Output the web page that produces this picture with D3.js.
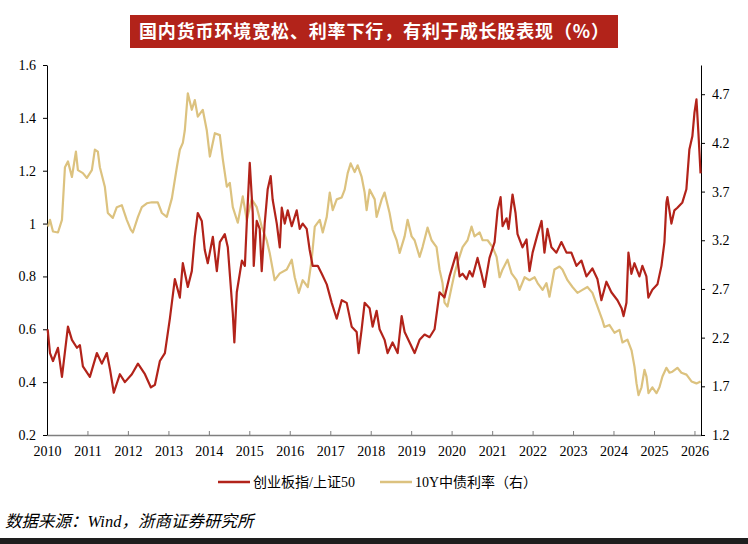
<!DOCTYPE html>
<html>
<head>
<meta charset="utf-8">
<script src="https://cdn.jsdelivr.net/npm/d3@7"></script>
<style>
  body { margin: 0; background: #fff; }
  svg { display: block; }
</style>
</head>
<body>
<svg id="chart" width="748" height="544"></svg>
<script>
// 创业板指/上证50 (left axis)
var ratioSeries = [
  ["2010-01-07",0.60],["2010-01-28",0.51],["2010-02-24",0.48],["2010-04-10",0.53],["2010-05-16",0.42],
  ["2010-07-09",0.61],["2010-08-14",0.56],["2010-09-28",0.53],["2010-10-25",0.54],["2010-11-21",0.46],
  ["2011-01-23",0.42],["2011-03-27",0.51],["2011-05-11",0.47],["2011-06-25",0.51],["2011-07-23",0.45],
  ["2011-08-27",0.36],["2011-10-21",0.43],["2011-12-05",0.40],["2012-02-06",0.43],["2012-04-01",0.47],
  ["2012-06-03",0.43],["2012-07-27",0.38],["2012-09-01",0.39],["2012-10-16",0.48],["2012-11-30",0.51],
  ["2013-01-14",0.64],["2013-02-28",0.79],["2013-04-14",0.72],["2013-05-11",0.85],["2013-06-25",0.76],
  ["2013-07-31",0.82],["2013-08-27",0.95],["2013-09-23",1.04],["2013-10-29",1.01],["2013-11-25",0.90],
  ["2013-12-22",0.85],["2014-02-06",0.95],["2014-03-14",0.82],["2014-04-10",0.93],["2014-05-25",0.96],
  ["2014-06-21",0.91],["2014-08-05",0.66],["2014-08-19",0.55],["2014-09-10",0.74],["2014-10-26",0.86],
  ["2014-11-22",0.84],["2014-12-09",1.00],["2015-01-05",1.23],["2015-02-01",1.04],["2015-02-10",0.84],
  ["2015-03-09",1.01],["2015-04-05",0.98],["2015-04-23",0.82],["2015-05-20",1.00],["2015-06-16",1.13],
  ["2015-07-13",1.18],["2015-07-31",1.09],["2015-09-06",1.00],["2015-10-03",0.91],["2015-10-21",1.06],
  ["2015-11-17",1.00],["2015-12-14",1.05],["2016-01-19",0.99],["2016-03-04",1.05],["2016-03-31",0.98],
  ["2016-04-27",1.00],["2016-06-02",0.98],["2016-06-29",0.90],["2016-07-26",0.84],["2016-09-10",0.84],
  ["2016-10-16",0.81],["2016-11-30",0.77],["2017-01-14",0.70],["2017-02-28",0.64],["2017-04-14",0.71],
  ["2017-05-29",0.70],["2017-07-13",0.61],["2017-08-27",0.59],["2017-09-14",0.51],["2017-10-11",0.60],
  ["2017-11-07",0.70],["2017-12-22",0.68],["2018-01-18",0.61],["2018-02-23",0.67],["2018-03-22",0.60],
  ["2018-05-06",0.56],["2018-06-02",0.51],["2018-07-17",0.55],["2018-09-01",0.51],["2018-10-07",0.65],
  ["2018-11-03",0.59],["2018-12-18",0.55],["2019-02-01",0.51],["2019-03-18",0.56],["2019-05-02",0.58],
  ["2019-06-16",0.57],["2019-07-31",0.60],["2019-09-14",0.74],["2019-10-29",0.72],["2019-12-13",0.80],
  ["2020-02-15",0.89],["2020-03-13",0.80],["2020-04-09",0.81],["2020-05-15",0.79],["2020-06-11",0.82],
  ["2020-07-08",0.80],["2020-08-22",0.87],["2020-09-27",0.81],["2020-10-24",0.76],["2020-12-08",0.87],
  ["2021-01-23",0.93],["2021-02-19",1.05],["2021-03-18",1.10],["2021-04-05",0.99],["2021-05-11",1.02],
  ["2021-05-29",0.98],["2021-07-04",1.11],["2021-07-31",1.04],["2021-08-18",0.96],["2021-10-02",0.91],
  ["2021-11-07",0.94],["2021-12-04",0.82],["2022-01-01",0.89],["2022-02-15",0.96],["2022-03-23",1.01],
  ["2022-04-18",0.89],["2022-05-15",0.98],["2022-06-20",0.91],["2022-08-04",0.89],["2022-09-18",0.93],
  ["2022-11-03",0.89],["2022-12-17",0.89],["2023-02-01",0.84],["2023-03-18",0.86],["2023-05-02",0.80],
  ["2023-06-25",0.83],["2023-08-09",0.79],["2023-09-14",0.71],["2023-10-29",0.78],["2023-12-13",0.74],
  ["2024-02-06",0.71],["2024-03-14",0.68],["2024-04-01",0.65],["2024-04-27",0.70],["2024-05-15",0.89],
  ["2024-06-11",0.81],["2024-07-08",0.85],["2024-08-22",0.80],["2024-09-18",0.84],["2024-10-24",0.80],
  ["2024-11-11",0.72],["2024-12-17",0.75],["2025-02-01",0.77],["2025-03-09",0.84],["2025-04-05",0.93],
  ["2025-04-23",1.08],["2025-05-02",1.10],["2025-06-07",1.00],["2025-07-04",1.05],["2025-07-31",1.06],
  ["2025-09-14",1.08],["2025-10-20",1.13],["2025-11-16",1.28],["2025-12-13",1.33],["2026-01-01",1.42],
  ["2026-01-19",1.47],["2026-02-06",1.34],["2026-02-25",1.19]
];

// 10Y中债利率 (right axis, %)
var yieldSeries = [
  ["2010-01-10",3.34],["2010-01-28",3.41],["2010-02-24",3.29],["2010-04-10",3.28],["2010-05-16",3.41],
  ["2010-06-12",3.95],["2010-07-09",4.01],["2010-08-14",3.85],["2010-09-19",4.11],["2010-10-07",3.92],
  ["2010-11-21",3.89],["2010-12-27",3.84],["2011-02-10",3.92],["2011-03-09",4.13],["2011-04-05",4.11],
  ["2011-04-23",3.95],["2011-06-07",3.75],["2011-07-04",3.48],["2011-08-18",3.43],["2011-09-23",3.54],
  ["2011-11-07",3.56],["2011-12-22",3.41],["2012-01-27",3.31],["2012-02-15",3.28],["2012-04-01",3.44],
  ["2012-05-06",3.54],["2012-06-20",3.58],["2012-08-04",3.59],["2012-09-27",3.59],["2012-11-03",3.48],
  ["2012-12-17",3.44],["2013-02-01",3.63],["2013-03-18",3.95],["2013-04-14",4.13],["2013-05-11",4.20],
  ["2013-05-29",4.33],["2013-06-25",4.71],["2013-07-31",4.54],["2013-08-27",4.64],["2013-09-23",4.47],
  ["2013-11-07",4.54],["2013-12-13",4.33],["2014-01-10",4.06],["2014-02-24",4.30],["2014-04-10",4.28],
  ["2014-05-07",4.03],["2014-06-12",3.75],["2014-07-09",3.79],["2014-08-05",3.54],["2014-09-19",3.38],
  ["2014-11-03",3.65],["2014-12-09",3.41],["2015-01-23",3.62],["2015-03-09",3.54],["2015-04-23",3.34],
  ["2015-06-07",3.20],["2015-07-04",3.07],["2015-08-18",2.79],["2015-10-03",2.86],["2015-12-05",2.90],
  ["2016-01-19",3.00],["2016-02-15",2.82],["2016-03-22",2.66],["2016-04-27",2.79],["2016-06-12",2.72],
  ["2016-07-17",3.00],["2016-08-14",3.34],["2016-09-28",3.41],["2016-10-25",3.28],["2016-11-30",3.44],
  ["2016-12-27",3.69],["2017-01-23",3.51],["2017-02-28",3.62],["2017-04-14",3.64],["2017-05-11",3.72],
  ["2017-06-07",3.89],["2017-07-04",3.99],["2017-08-09",3.90],["2017-09-05",3.97],["2017-10-11",3.85],
  ["2017-11-07",3.69],["2017-11-25",3.51],["2017-12-22",3.72],["2018-02-06",3.62],["2018-02-23",3.44],
  ["2018-04-10",3.62],["2018-05-06",3.69],["2018-06-20",3.48],["2018-07-17",3.31],["2018-08-23",3.20],
  ["2018-09-19",3.07],["2018-11-03",3.24],["2018-11-30",3.41],["2019-01-05",3.24],["2019-02-01",3.20],
  ["2019-03-18",3.03],["2019-04-14",3.13],["2019-05-29",3.33],["2019-07-04",3.20],["2019-08-18",3.13],
  ["2019-09-14",2.90],["2019-10-11",2.76],["2019-10-29",2.56],["2019-11-25",2.52],["2020-01-01",2.72],
  ["2020-01-28",2.86],["2020-02-24",2.97],["2020-04-09",3.13],["2020-05-24",3.20],["2020-06-29",3.34],
  ["2020-07-26",3.24],["2020-09-10",3.28],["2020-10-07",3.20],["2020-11-21",3.20],["2021-01-05",3.13],
  ["2021-02-10",3.03],["2021-03-09",2.82],["2021-04-05",2.90],["2021-05-20",3.00],["2021-06-25",2.86],
  ["2021-08-09",2.79],["2021-09-05",2.69],["2021-10-21",2.82],["2021-12-04",2.79],["2022-01-19",2.82],
  ["2022-02-15",2.76],["2022-04-01",2.69],["2022-05-06",2.76],["2022-06-02",2.62],["2022-07-17",2.90],
  ["2022-09-01",2.93],["2022-09-27",2.90],["2022-11-12",2.79],["2022-12-27",2.72],["2023-02-10",2.66],
  ["2023-03-27",2.69],["2023-05-11",2.72],["2023-06-25",2.66],["2023-08-09",2.52],["2023-09-23",2.38],
  ["2023-10-11",2.31],["2023-11-25",2.33],["2024-01-10",2.25],["2024-02-24",2.28],["2024-03-22",2.15],
  ["2024-05-06",2.18],["2024-06-12",2.07],["2024-07-09",1.90],["2024-07-27",1.73],["2024-08-14",1.61],
  ["2024-09-10",1.69],["2024-10-07",1.87],["2024-10-25",1.80],["2024-11-12",1.63],["2024-12-17",1.69],
  ["2025-01-23",1.63],["2025-02-19",1.69],["2025-03-18",1.80],["2025-04-23",1.89],["2025-05-20",1.84],
  ["2025-06-16",1.85],["2025-07-31",1.89],["2025-09-05",1.84],["2025-10-21",1.82],["2025-12-05",1.75],
  ["2026-01-19",1.73],["2026-02-25",1.75]
];

var leftTicks = [0.2, 0.4, 0.6, 0.8, 1.0, 1.2, 1.4, 1.6];
var rightTicks = [1.2, 1.7, 2.2, 2.7, 3.2, 3.7, 4.2, 4.7];
var yearTicks = d3.range(2010, 2027);

var titleText = "国内货币环境宽松、利率下行，有利于成长股表现（%）";
var legendNames = ["创业板指/上证50", "10Y中债利率（右）"];
var sourceText = "数据来源：Wind，浙商证券研究所";

var parse = d3.timeParse("%Y-%m-%d");
var svg = d3.select("#chart");
var serif = "'Liberation Serif','Times New Roman','Noto Sans CJK SC',serif";

// plot box (window.top is reserved, so keep names local)
var plot = { l: 47, r: 701, t: 65, b: 435 };

var x = d3.scaleTime()
  .domain([new Date(2010, 0, 1), new Date(2026, 2, 1)])
  .range([plot.l, plot.r]);
var yL = d3.scaleLinear().domain([0.2, 1.6]).range([plot.b, plot.t]);
var yR = d3.scaleLinear().domain([1.2, 5.0]).range([plot.b, plot.t]);

// title
svg.append("rect").attr("x", 130).attr("y", 15).attr("width", 488).attr("height", 33)
  .attr("fill", "#B2231A");
svg.append("text").attr("x", 374).attr("y", 38).attr("text-anchor", "middle")
  .attr("fill", "#fff").attr("font-family", "'Noto Sans CJK SC',sans-serif")
  .attr("font-weight", "bold").attr("font-size", 18)
  .attr("textLength", 470).attr("lengthAdjust", "spacing")
  .text(titleText);

// axes
var gx = svg.append("g").attr("transform", "translate(0," + plot.b + ")")
  .call(d3.axisBottom(x)
    .tickValues(yearTicks.map(function(d){ return new Date(d, 0, 1); }))
    .tickFormat(d3.timeFormat("%Y"))
    .tickSizeInner(-4).tickSizeOuter(0).tickPadding(11));
gx.select(".domain").attr("stroke", "#7f7f7f").attr("stroke-width", 1.3);
gx.selectAll(".tick line").attr("stroke", "#7f7f7f");
gx.selectAll("text").attr("font-family", serif).attr("font-size", 14).attr("fill", "#000");

var gl = svg.append("g").attr("transform", "translate(" + plot.l + ",0)")
  .call(d3.axisLeft(yL).tickValues(leftTicks)
    .tickFormat(function(d){ return String(+d.toFixed(1)); })
    .tickSizeInner(4).tickSizeOuter(0).tickPadding(7));
gl.select(".domain").attr("stroke", "#000");
gl.selectAll("text").attr("font-family", serif).attr("font-size", 14).attr("fill", "#000");

var gr = svg.append("g").attr("transform", "translate(" + plot.r + ",0)")
  .call(d3.axisRight(yR).tickValues(rightTicks)
    .tickFormat(d3.format(".1f"))
    .tickSizeInner(4).tickSizeOuter(0).tickPadding(7));
gr.select(".domain").attr("stroke", "#000");
gr.selectAll("text").attr("font-family", serif).attr("font-size", 14).attr("fill", "#000");

// lines
var lineR = d3.line().x(function(d){ return x(parse(d[0])); }).y(function(d){ return yR(d[1]); });
var lineL = d3.line().x(function(d){ return x(parse(d[0])); }).y(function(d){ return yL(d[1]); });

svg.append("path").datum(yieldSeries).attr("d", lineR)
  .attr("fill", "none").attr("stroke", "#DCC27F").attr("stroke-width", 2.2)
  .attr("stroke-linejoin", "round");
svg.append("path").datum(ratioSeries).attr("d", lineL)
  .attr("fill", "none").attr("stroke", "#B2231A").attr("stroke-width", 2.2)
  .attr("stroke-linejoin", "round");

// legend
var legendColors = ["#B2231A", "#DCC27F"];
var legendX = [218, 380];
legendNames.forEach(function(name, i){
  var g = svg.append("g").attr("transform", "translate(" + legendX[i] + ",482)");
  g.append("line").attr("x1", 0).attr("x2", 32).attr("y1", 0).attr("y2", 0)
    .attr("stroke", legendColors[i]).attr("stroke-width", 2.5);
  g.append("text").attr("x", 35).attr("y", 5)
    .attr("font-family", serif).attr("font-size", 14).attr("fill", "#000")
    .text(name);
});

// source
svg.append("text").attr("x", 5).attr("y", 527)
  .attr("font-family", serif).attr("font-size", 16.5).attr("font-style", "italic")
  .attr("fill", "#000").text(sourceText);

svg.append("rect").attr("x", 0).attr("y", 538).attr("width", 748).attr("height", 6)
  .attr("fill", "#1e1e1e");
</script>
</body>
</html>
